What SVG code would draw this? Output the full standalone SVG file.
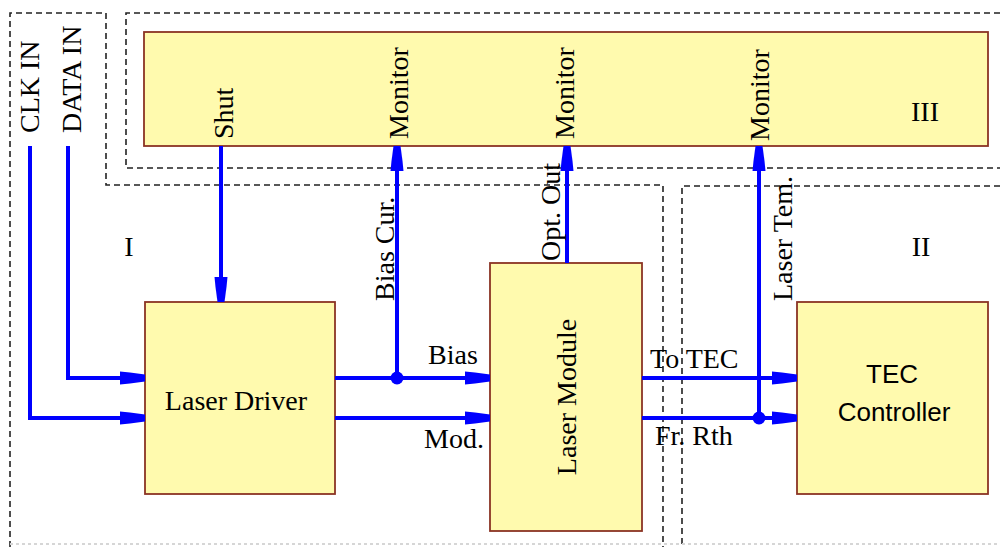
<svg xmlns="http://www.w3.org/2000/svg" width="1000" height="547" viewBox="0 0 1000 547">
<style>
.bg{fill:#ffffff}
.region{fill:none;stroke:#222;stroke-width:1.6;stroke-dasharray:6 4}
.faint{fill:none;stroke:#d6d6d6;stroke-width:2;stroke-dasharray:3 3}
.box{fill:#fffaae;stroke:#8b3324;stroke-width:1.8}
.wire{fill:none;stroke:#0000ff;stroke-width:4}
.dot{fill:#0000ff}
.serif{font-family:"Liberation Serif","Times New Roman",serif;font-size:28px;fill:#000}
.sans{font-family:"Liberation Sans",Arial,sans-serif;font-size:26px;fill:#000}
</style>
<defs>
<marker id="ah" viewBox="0 0 25 14" refX="25" refY="7" markerWidth="25" markerHeight="14" markerUnits="userSpaceOnUse" orient="auto">
<polygon points="0,0.5 10,1.5 25,3.5 25,10.5 10,12.5 0,13.5" fill="#0000ff"/>
</marker>
</defs>
<rect class="bg" x="0" y="0" width="1000" height="547"/>

<g id="regions">
<path class="region" d="M10,547 V13 H106 V185 H663 V547"/>
<path class="region" d="M1000,13 H126 V168 H1000"/>
<path class="region" d="M1000,186 H682 V547"/>
<path class="faint" d="M10,544 H1000"/>
</g>

<g id="region-labels">
<text class="serif" x="129" y="256" text-anchor="middle">I</text>
<text class="serif" x="921" y="256" text-anchor="middle">II</text>
</g>

<g id="monitor-block">
<rect class="box" x="144" y="32" width="844" height="114"/>
<text class="serif" transform="translate(233,139) rotate(-90)">Shut</text>
<text class="serif" transform="translate(408,139) rotate(-90)">Monitor</text>
<text class="serif" transform="translate(574,139) rotate(-90)">Monitor</text>
<text class="serif" transform="translate(769,141) rotate(-90)">Monitor</text>
<text class="serif" x="925" y="121" text-anchor="middle">III</text>
</g>

<g id="inputs">
<text class="serif" transform="translate(39,133) rotate(-90)">CLK IN</text>
<text class="serif" transform="translate(81,133) rotate(-90)">DATA IN</text>
</g>

<g id="laser-driver">
<rect class="box" x="145" y="302" width="190" height="192"/>
<text class="serif" x="236" y="410" text-anchor="middle">Laser Driver</text>
</g>

<g id="laser-module">
<rect class="box" x="490" y="263" width="152" height="268"/>
<text class="serif" transform="translate(576,397) rotate(-90)" text-anchor="middle">Laser Module</text>
</g>

<g id="tec-controller">
<rect class="box" x="797" y="302" width="191" height="192"/>
<text class="sans" x="892" y="383" text-anchor="middle">TEC</text>
<text class="sans" x="894" y="421" text-anchor="middle">Controller</text>
</g>

<g id="connectors">
<path class="wire" d="M30,146 V418 H145" marker-end="url(#ah)"/>
<path class="wire" d="M68,146 V378 H145" marker-end="url(#ah)"/>
<path class="wire" d="M221,146 V302" marker-end="url(#ah)"/>
<path class="wire" d="M335,378 H490" marker-end="url(#ah)"/>
<path class="wire" d="M335,418 H490" marker-end="url(#ah)"/>
<path class="wire" d="M397,378 V146" marker-end="url(#ah)"/>
<path class="wire" d="M567,263 V146" marker-end="url(#ah)"/>
<path class="wire" d="M642,378 H797" marker-end="url(#ah)"/>
<path class="wire" d="M642,418 H797" marker-end="url(#ah)"/>
<path class="wire" d="M759,418 V146" marker-end="url(#ah)"/>
<circle class="dot" cx="397" cy="378" r="6.5"/>
<circle class="dot" cx="759" cy="418" r="6.5"/>
<text class="serif" transform="translate(394,301) rotate(-90)">Bias Cur.</text>
<text class="serif" transform="translate(560,261) rotate(-90)">Opt. Out</text>
<text class="serif" transform="translate(792,301) rotate(-90)">Laser Tem.</text>
<text class="serif" x="428" y="364">Bias</text>
<text class="serif" x="424" y="448">Mod.</text>
<text class="serif" x="650" y="368">To TEC</text>
<text class="serif" x="655" y="445">Fr. Rth</text>
</g>
</svg>
